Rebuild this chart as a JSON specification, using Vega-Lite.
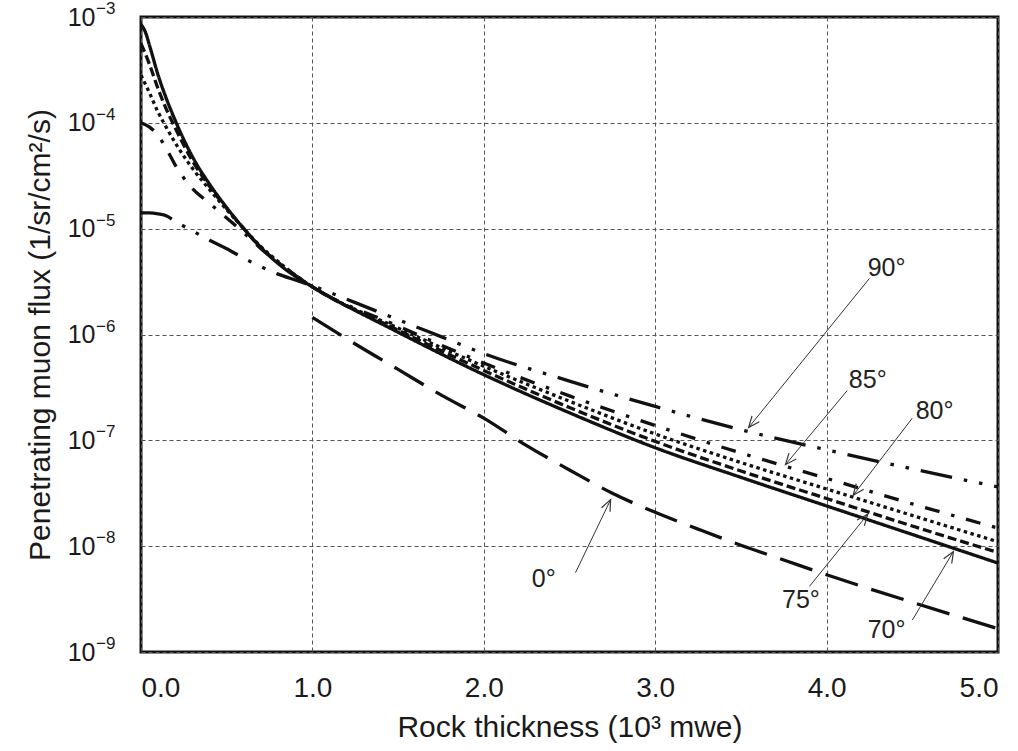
{
  "$schema": "https://vega.github.io/schema/vega-lite/v6.json",
  "width": 857,
  "height": 635,
  "autosize": {"type": "none"},
  "padding": {"left": 141, "top": 17, "right": 20, "bottom": 99},
  "background": "white",
  "config": {
    "font": "Liberation Sans",
    "view": {"stroke": "#111", "strokeWidth": 3},
    "axis": {
      "domain": false,
      "ticks": false,
      "grid": true,
      "gridColor": "#555",
      "gridDash": [4, 3],
      "gridWidth": 1,
      "labelFont": "Liberation Sans",
      "labelColor": "#1a1a1a",
      "titleFont": "Liberation Sans",
      "titleFontSize": 30,
      "titleFontWeight": "normal",
      "titleColor": "#1a1a1a"
    }
  },
  "datasets": {
    "curves": [
      {"zenith": "70°", "thickness": 0, "flux": 8.51e-4},
      {"zenith": "70°", "thickness": 0.025, "flux": 7.24e-4},
      {"zenith": "70°", "thickness": 0.05, "flux": 5.37e-4},
      {"zenith": "70°", "thickness": 0.1, "flux": 2.82e-4},
      {"zenith": "70°", "thickness": 0.15, "flux": 1.66e-4},
      {"zenith": "70°", "thickness": 0.2, "flux": 1.05e-4},
      {"zenith": "70°", "thickness": 0.3, "flux": 4.79e-5},
      {"zenith": "70°", "thickness": 0.4, "flux": 2.63e-5},
      {"zenith": "70°", "thickness": 0.5, "flux": 1.58e-5},
      {"zenith": "70°", "thickness": 0.6, "flux": 1.0e-5},
      {"zenith": "70°", "thickness": 0.7, "flux": 6.61e-6},
      {"zenith": "70°", "thickness": 0.8, "flux": 4.68e-6},
      {"zenith": "70°", "thickness": 0.9, "flux": 3.55e-6},
      {"zenith": "70°", "thickness": 1.0, "flux": 2.82e-6},
      {"zenith": "70°", "thickness": 1.5, "flux": 1.05e-6},
      {"zenith": "70°", "thickness": 2.0, "flux": 4.17e-7},
      {"zenith": "70°", "thickness": 2.5, "flux": 1.82e-7},
      {"zenith": "70°", "thickness": 3.0, "flux": 8.51e-8},
      {"zenith": "70°", "thickness": 3.5, "flux": 4.47e-8},
      {"zenith": "70°", "thickness": 4.0, "flux": 2.40e-8},
      {"zenith": "70°", "thickness": 4.5, "flux": 1.29e-8},
      {"zenith": "70°", "thickness": 5.0, "flux": 6.92e-9},

      {"zenith": "75°", "thickness": 0, "flux": 5.62e-4},
      {"zenith": "75°", "thickness": 0.05, "flux": 3.55e-4},
      {"zenith": "75°", "thickness": 0.1, "flux": 2.09e-4},
      {"zenith": "75°", "thickness": 0.15, "flux": 1.32e-4},
      {"zenith": "75°", "thickness": 0.2, "flux": 8.91e-5},
      {"zenith": "75°", "thickness": 0.3, "flux": 4.37e-5},
      {"zenith": "75°", "thickness": 0.4, "flux": 2.51e-5},
      {"zenith": "75°", "thickness": 0.5, "flux": 1.55e-5},
      {"zenith": "75°", "thickness": 0.6, "flux": 1.0e-5},
      {"zenith": "75°", "thickness": 0.7, "flux": 6.61e-6},
      {"zenith": "75°", "thickness": 0.8, "flux": 4.79e-6},
      {"zenith": "75°", "thickness": 0.9, "flux": 3.63e-6},
      {"zenith": "75°", "thickness": 1.0, "flux": 2.82e-6},
      {"zenith": "75°", "thickness": 1.5, "flux": 1.10e-6},
      {"zenith": "75°", "thickness": 2.0, "flux": 4.57e-7},
      {"zenith": "75°", "thickness": 2.5, "flux": 2.04e-7},
      {"zenith": "75°", "thickness": 3.0, "flux": 9.77e-8},
      {"zenith": "75°", "thickness": 3.5, "flux": 5.13e-8},
      {"zenith": "75°", "thickness": 4.0, "flux": 2.82e-8},
      {"zenith": "75°", "thickness": 4.5, "flux": 1.55e-8},
      {"zenith": "75°", "thickness": 5.0, "flux": 8.71e-9},

      {"zenith": "80°", "thickness": 0, "flux": 2.82e-4},
      {"zenith": "80°", "thickness": 0.05, "flux": 1.91e-4},
      {"zenith": "80°", "thickness": 0.1, "flux": 1.26e-4},
      {"zenith": "80°", "thickness": 0.15, "flux": 8.91e-5},
      {"zenith": "80°", "thickness": 0.2, "flux": 6.46e-5},
      {"zenith": "80°", "thickness": 0.3, "flux": 3.72e-5},
      {"zenith": "80°", "thickness": 0.4, "flux": 2.34e-5},
      {"zenith": "80°", "thickness": 0.5, "flux": 1.51e-5},
      {"zenith": "80°", "thickness": 0.6, "flux": 1.0e-5},
      {"zenith": "80°", "thickness": 0.7, "flux": 6.76e-6},
      {"zenith": "80°", "thickness": 0.8, "flux": 4.90e-6},
      {"zenith": "80°", "thickness": 0.9, "flux": 3.63e-6},
      {"zenith": "80°", "thickness": 1.0, "flux": 2.82e-6},
      {"zenith": "80°", "thickness": 1.5, "flux": 1.15e-6},
      {"zenith": "80°", "thickness": 2.0, "flux": 5.01e-7},
      {"zenith": "80°", "thickness": 2.5, "flux": 2.34e-7},
      {"zenith": "80°", "thickness": 3.0, "flux": 1.15e-7},
      {"zenith": "80°", "thickness": 3.5, "flux": 6.17e-8},
      {"zenith": "80°", "thickness": 4.0, "flux": 3.47e-8},
      {"zenith": "80°", "thickness": 4.5, "flux": 1.95e-8},
      {"zenith": "80°", "thickness": 5.0, "flux": 1.10e-8},

      {"zenith": "85°", "thickness": 0, "flux": 1.0e-4},
      {"zenith": "85°", "thickness": 0.05, "flux": 9.12e-5},
      {"zenith": "85°", "thickness": 0.1, "flux": 7.59e-5},
      {"zenith": "85°", "thickness": 0.15, "flux": 5.62e-5},
      {"zenith": "85°", "thickness": 0.2, "flux": 3.98e-5},
      {"zenith": "85°", "thickness": 0.3, "flux": 2.40e-5},
      {"zenith": "85°", "thickness": 0.4, "flux": 1.74e-5},
      {"zenith": "85°", "thickness": 0.5, "flux": 1.26e-5},
      {"zenith": "85°", "thickness": 0.6, "flux": 9.12e-6},
      {"zenith": "85°", "thickness": 0.7, "flux": 6.46e-6},
      {"zenith": "85°", "thickness": 0.8, "flux": 4.79e-6},
      {"zenith": "85°", "thickness": 0.9, "flux": 3.63e-6},
      {"zenith": "85°", "thickness": 1.0, "flux": 2.82e-6},
      {"zenith": "85°", "thickness": 1.5, "flux": 1.20e-6},
      {"zenith": "85°", "thickness": 2.0, "flux": 5.37e-7},
      {"zenith": "85°", "thickness": 2.5, "flux": 2.63e-7},
      {"zenith": "85°", "thickness": 3.0, "flux": 1.38e-7},
      {"zenith": "85°", "thickness": 3.5, "flux": 7.59e-8},
      {"zenith": "85°", "thickness": 4.0, "flux": 4.37e-8},
      {"zenith": "85°", "thickness": 4.5, "flux": 2.51e-8},
      {"zenith": "85°", "thickness": 5.0, "flux": 1.48e-8},

      {"zenith": "90°", "thickness": 0, "flux": 1.41e-5},
      {"zenith": "90°", "thickness": 0.05, "flux": 1.41e-5},
      {"zenith": "90°", "thickness": 0.1, "flux": 1.38e-5},
      {"zenith": "90°", "thickness": 0.15, "flux": 1.32e-5},
      {"zenith": "90°", "thickness": 0.2, "flux": 1.17e-5},
      {"zenith": "90°", "thickness": 0.3, "flux": 9.55e-6},
      {"zenith": "90°", "thickness": 0.4, "flux": 7.76e-6},
      {"zenith": "90°", "thickness": 0.5, "flux": 6.46e-6},
      {"zenith": "90°", "thickness": 0.6, "flux": 5.25e-6},
      {"zenith": "90°", "thickness": 0.7, "flux": 4.37e-6},
      {"zenith": "90°", "thickness": 0.8, "flux": 3.72e-6},
      {"zenith": "90°", "thickness": 0.9, "flux": 3.27e-6},
      {"zenith": "90°", "thickness": 1.0, "flux": 2.88e-6},
      {"zenith": "90°", "thickness": 1.25, "flux": 2.00e-6},
      {"zenith": "90°", "thickness": 1.5, "flux": 1.38e-6},
      {"zenith": "90°", "thickness": 1.75, "flux": 9.55e-7},
      {"zenith": "90°", "thickness": 2.0, "flux": 6.61e-7},
      {"zenith": "90°", "thickness": 2.5, "flux": 3.63e-7},
      {"zenith": "90°", "thickness": 3.0, "flux": 2.09e-7},
      {"zenith": "90°", "thickness": 3.5, "flux": 1.26e-7},
      {"zenith": "90°", "thickness": 4.0, "flux": 8.13e-8},
      {"zenith": "90°", "thickness": 4.5, "flux": 5.37e-8},
      {"zenith": "90°", "thickness": 5.0, "flux": 3.63e-8},

      {"zenith": "0°", "thickness": 1.0, "flux": 1.45e-6},
      {"zenith": "0°", "thickness": 1.25, "flux": 8.13e-7},
      {"zenith": "0°", "thickness": 1.5, "flux": 4.68e-7},
      {"zenith": "0°", "thickness": 1.75, "flux": 2.69e-7},
      {"zenith": "0°", "thickness": 2.0, "flux": 1.62e-7},
      {"zenith": "0°", "thickness": 2.25, "flux": 8.91e-8},
      {"zenith": "0°", "thickness": 2.5, "flux": 5.25e-8},
      {"zenith": "0°", "thickness": 2.75, "flux": 3.16e-8},
      {"zenith": "0°", "thickness": 3.0, "flux": 2.09e-8},
      {"zenith": "0°", "thickness": 3.25, "flux": 1.45e-8},
      {"zenith": "0°", "thickness": 3.5, "flux": 1.02e-8},
      {"zenith": "0°", "thickness": 3.75, "flux": 7.41e-9},
      {"zenith": "0°", "thickness": 4.0, "flux": 5.37e-9},
      {"zenith": "0°", "thickness": 4.5, "flux": 2.95e-9},
      {"zenith": "0°", "thickness": 5.0, "flux": 1.66e-9}
    ],
    "notes": [
      {"label": "90°", "thickness": 4.35, "flux": 4.27e-6, "from_t": 4.25, "from_f": 3.39e-6, "tip_t": 3.545, "tip_f": 1.32e-7},
      {"label": "85°", "thickness": 4.24, "flux": 3.72e-7, "from_t": 4.12, "from_f": 2.95e-7, "tip_t": 3.76, "tip_f": 5.89e-8},
      {"label": "80°", "thickness": 4.63, "flux": 1.91e-7, "from_t": 4.5, "from_f": 1.62e-7, "tip_t": 4.155, "tip_f": 3.02e-8},
      {"label": "75°", "thickness": 3.85, "flux": 3.1e-9, "from_t": 3.9, "from_f": 4.17e-9, "tip_t": 4.24, "tip_f": 2.0e-8},
      {"label": "70°", "thickness": 4.35, "flux": 1.62e-9, "from_t": 4.5, "from_f": 2.0e-9, "tip_t": 4.74, "tip_f": 8.91e-9},
      {"label": "0°", "thickness": 2.35, "flux": 4.9e-9, "from_t": 2.535, "from_f": 5.62e-9, "tip_t": 2.74, "tip_f": 2.75e-8}
    ],
    "decades": [
      {"flux": 1e-3, "power": "−3"},
      {"flux": 1e-4, "power": "−4"},
      {"flux": 1e-5, "power": "−5"},
      {"flux": 1e-6, "power": "−6"},
      {"flux": 1e-7, "power": "−7"},
      {"flux": 1e-8, "power": "−8"},
      {"flux": 1e-9, "power": "−9"}
    ]
  },
  "layer": [
    {
      "data": {"name": "curves"},
      "mark": {"type": "line", "color": "#111", "strokeWidth": 3.3, "strokeCap": "butt", "interpolate": "monotone", "clip": true},
      "encoding": {
        "x": {
          "field": "thickness",
          "type": "quantitative",
          "scale": {"domain": [0, 5], "nice": false, "zero": false},
          "axis": {
            "values": [0, 1, 2, 3, 4, 5],
            "format": ".1f",
            "labelFontSize": 28,
            "labelBaseline": "middle",
            "labelPadding": 36,
            "title": "Rock thickness (10³ mwe)",
            "titlePadding": 10
          }
        },
        "y": {
          "field": "flux",
          "type": "quantitative",
          "scale": {"type": "log", "domain": [1e-9, 1e-3], "nice": false},
          "axis": {
            "values": [1e-9, 1e-8, 1e-7, 1e-6, 1e-5, 1e-4, 1e-3],
            "labelExpr": "'10'",
            "labelFontSize": 25,
            "labelPadding": 46,
            "title": "Penetrating muon flux (1/sr/cm²/s)",
            "titlePadding": 12
          }
        },
        "detail": {"field": "zenith", "type": "nominal"},
        "strokeDash": {
          "field": "zenith",
          "type": "nominal",
          "legend": null,
          "scale": {
            "domain": ["0°", "70°", "75°", "80°", "85°", "90°"],
            "range": [[34, 14], [1, 0], [9, 4], [3.5, 3.5], [15, 12, 3.5, 12], [32, 12, 3.5, 12, 3.5, 12]]
          }
        }
      }
    },
    {
      "data": {"name": "decades"},
      "mark": {"type": "text", "font": "Liberation Sans", "fontSize": 17, "color": "#1a1a1a", "align": "left", "baseline": "middle", "dx": -45, "dy": -8},
      "encoding": {
        "x": {"datum": 0, "type": "quantitative"},
        "y": {"field": "flux", "type": "quantitative"},
        "text": {"field": "power", "type": "nominal"}
      }
    },
    {
      "data": {"name": "notes"},
      "mark": {"type": "rule", "color": "#333", "strokeWidth": 1},
      "encoding": {
        "x": {"field": "from_t", "type": "quantitative"},
        "x2": {"field": "tip_t"},
        "y": {"field": "from_f", "type": "quantitative"},
        "y2": {"field": "tip_f"}
      }
    },
    {
      "data": {"name": "notes"},
      "transform": [
        {"calculate": "atan2((datum.tip_t - datum.from_t) * 171.4, (log(datum.tip_f) - log(datum.from_f)) / LN10 * 105.8) * 180 / PI", "as": "ang"}
      ],
      "mark": {"type": "point", "shape": "M-0.42,1L0,0L0.42,1", "filled": false, "stroke": "#333", "strokeWidth": 1.2, "size": 500, "opacity": 1},
      "encoding": {
        "x": {"field": "tip_t", "type": "quantitative"},
        "y": {"field": "tip_f", "type": "quantitative"},
        "angle": {"field": "ang", "type": "quantitative", "scale": null}
      }
    },
    {
      "data": {"name": "notes"},
      "mark": {"type": "text", "font": "Liberation Sans", "fontSize": 25, "color": "#222", "align": "center", "baseline": "middle"},
      "encoding": {
        "x": {"field": "thickness", "type": "quantitative"},
        "y": {"field": "flux", "type": "quantitative"},
        "text": {"field": "label", "type": "nominal"}
      }
    }
  ]
}
